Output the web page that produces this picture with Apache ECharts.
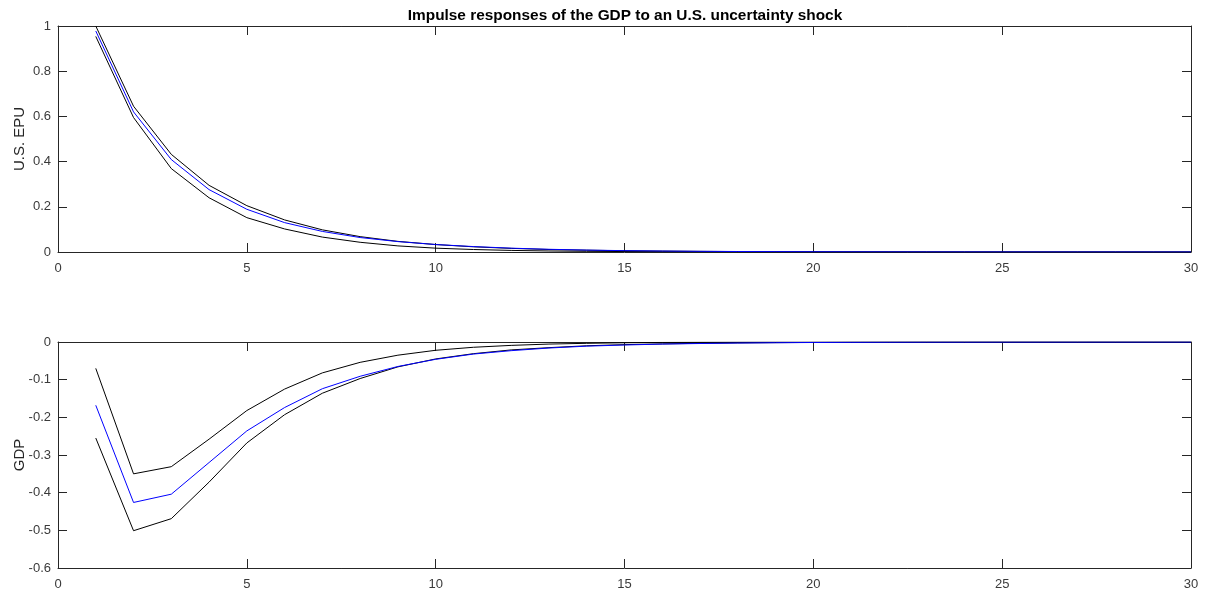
<!DOCTYPE html>
<html>
<head>
<meta charset="utf-8">
<script src="https://cdn.jsdelivr.net/npm/echarts@6/dist/echarts.min.js"></script>
<style>
html,body{margin:0;padding:0;background:#fff;}
#chart{width:1207px;height:595px;}
</style>
</head>
<body>
<div id="chart"></div>
<script>
const horizons = [1,2,3,4,5,6,7,8,9,10,11,12,13,14,15,16,17,18,19,20,21,22,23,24,25,26,27,28,29,30];

const epuUpper = [1.0,0.645,0.432,0.295,0.205,0.142,0.098,0.068,0.047,0.033,0.023,0.016,0.011,0.008,0.0055,0.004,0.0028,0.002,0.0014,0.001,0.0007,0.0005,0.0003,0.0002,0.00015,0.0001,0.0001,0.00005,0.00003,0.00002];
const epuMid   = [0.978,0.62,0.409,0.276,0.189,0.130,0.091,0.064,0.046,0.033,0.024,0.017,0.012,0.0085,0.006,0.0043,0.003,0.0022,0.0016,0.0011,0.0008,0.0006,0.0004,0.0003,0.0002,0.00015,0.0001,0.00007,0.00005,0.00003];
const epuLower = [0.954,0.595,0.369,0.24,0.152,0.102,0.066,0.043,0.027,0.017,0.011,0.007,0.0045,0.003,0.002,0.0013,0.0008,0.0005,0.0003,0.0002,0.0001,0.00007,0.00005,0.00003,0.00002,0.00001,0.00001,0,0,0];

const gdpUpper = [-0.07,-0.35,-0.331,-0.258,-0.182,-0.125,-0.082,-0.054,-0.035,-0.022,-0.014,-0.009,-0.0055,-0.0035,-0.002,-0.0012,-0.0007,-0.0004,-0.0002,-0.0001,-0.00006,-0.00004,-0.00002,-0.00001,0,0,0,0,0,0];
const gdpMid   = [-0.168,-0.426,-0.404,-0.32,-0.236,-0.174,-0.124,-0.091,-0.065,-0.046,-0.032,-0.023,-0.016,-0.011,-0.008,-0.0055,-0.004,-0.0027,-0.0019,-0.0013,-0.0009,-0.0006,-0.0004,-0.0003,-0.0002,-0.00014,-0.0001,-0.00007,-0.00005,-0.00003];
const gdpLower = [-0.255,-0.501,-0.469,-0.372,-0.268,-0.193,-0.136,-0.097,-0.066,-0.045,-0.031,-0.021,-0.015,-0.010,-0.007,-0.005,-0.0035,-0.0024,-0.0017,-0.0012,-0.0008,-0.0005,-0.0003,-0.0002,-0.00012,-0.00008,-0.00005,-0.00003,-0.00002,-0.00001];

const titleText = 'Impulse responses of the GDP to an U.S. uncertainty shock';
const topYName = 'U.S. EPU';
const bottomYName = 'GDP';

const FONT = '"Liberation Sans", Arial, Helvetica, sans-serif';
const AX = '#262626';
const LBL = '#3a3a3a';

function pairs(vals){ return horizons.map((h,i)=>[h, vals[i]]); }

function xAx(grid, pos, labels){
  return {
    type:'value', gridIndex:grid, position:pos, min:0, max:30, interval:5,
    axisLine:{show:true, onZero:false, lineStyle:{color:AX, width:1}},
    axisTick:{show:true, inside:true, length:9, lineStyle:{color:AX, width:1}},
    axisLabel:{show:labels, color:LBL, fontFamily:FONT, fontSize:13, margin:10},
    splitLine:{show:false}
  };
}
function yAx(grid, pos, labels, min, max, interval, name){
  return {
    type:'value', gridIndex:grid, position:pos, min:min, max:max, interval:interval,
    name: name || '', nameLocation:'middle', nameGap:31, nameMoveOverlap:false,
    nameTextStyle:{color:'#262626', fontFamily:FONT, fontSize:15},
    axisLine:{show:true, onZero:false, lineStyle:{color:AX, width:1}},
    axisTick:{show:true, inside:true, length:9, lineStyle:{color:AX, width:1}},
    axisLabel:{show:labels, color:LBL, fontFamily:FONT, fontSize:13, margin:7},
    splitLine:{show:false}
  };
}
function line(xi, yi, vals, color, z){
  return {
    type:'line', xAxisIndex:xi, yAxisIndex:yi, data:pairs(vals),
    showSymbol:false, symbol:'none', z:z,
    lineStyle:{color:color, width:1}, itemStyle:{color:color},
    animation:false
  };
}

const chart = echarts.init(document.getElementById('chart'), null, {renderer:'canvas'});
chart.setOption({
  backgroundColor:'#fff',
  animation:false,
  title:{text:titleText, left:620, textAlign:'center', top:3,
         textStyle:{fontFamily:FONT, fontSize:15.4, fontWeight:'bold', color:'#000'}},
  grid:[
    {left:58, right:16, top:26, height:226, containLabel:false, outerBoundsMode:'none'},
    {left:58, right:16, top:342, height:226, containLabel:false, outerBoundsMode:'none'}
  ],
  xAxis:[ xAx(0,'bottom',true), xAx(0,'top',false), xAx(1,'bottom',true), xAx(1,'top',false) ],
  yAxis:[
    yAx(0,'left',true,0,1,0.2,topYName),
    yAx(0,'right',false,0,1,0.2),
    yAx(1,'left',true,-0.6,0,0.1,bottomYName),
    yAx(1,'right',false,-0.6,0,0.1)
  ],
  series:[
    line(0,0,epuUpper,'#000',2),
    line(0,0,epuLower,'#000',2),
    line(0,0,epuMid,'#0000ff',3),
    line(2,2,gdpUpper,'#000',2),
    line(2,2,gdpLower,'#000',2),
    line(2,2,gdpMid,'#0000ff',3)
  ]
});
</script>
</body>
</html>
